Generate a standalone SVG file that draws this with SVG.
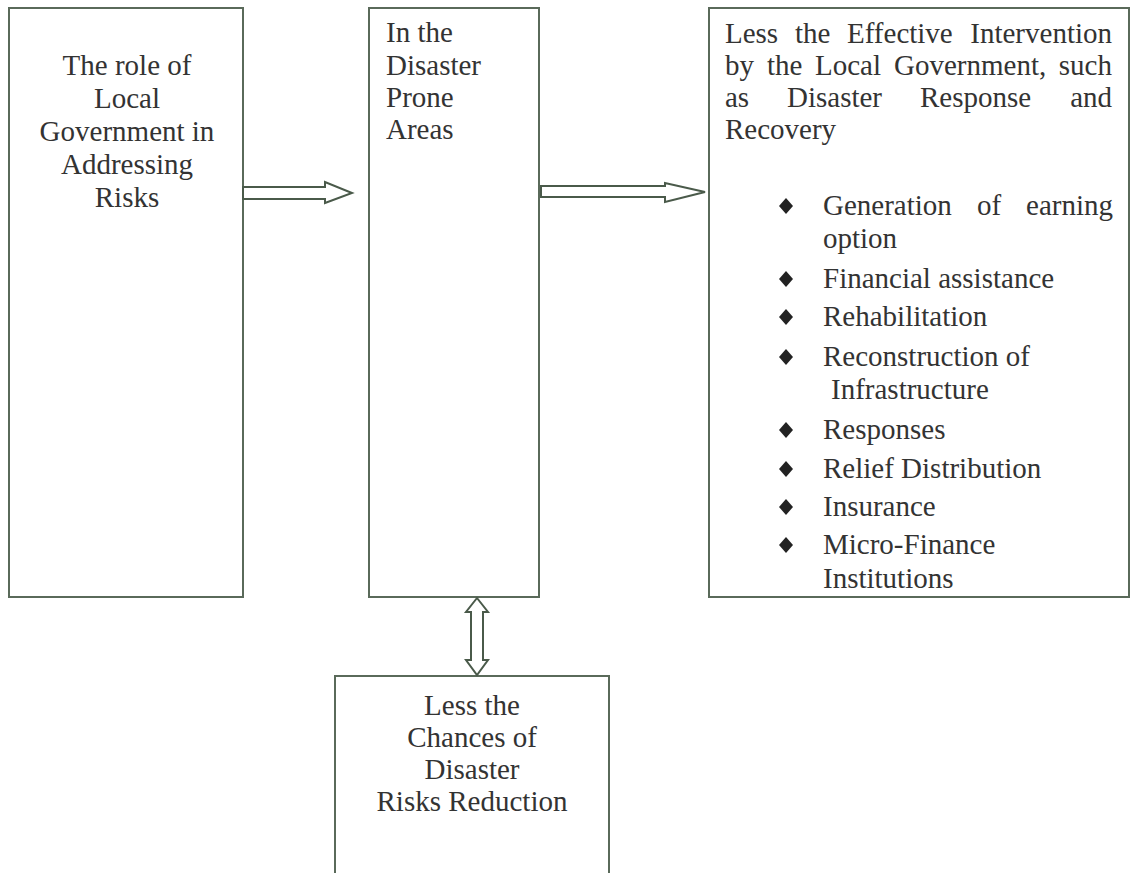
<svg xmlns="http://www.w3.org/2000/svg" width="1133" height="873" viewBox="0 0 1133 873">
<style>
.box{fill:#fff;stroke:#5a6a5a;stroke-width:2}
.arr{fill:#fff;stroke:#4a5a4a;stroke-width:2;stroke-linejoin:miter}
text{font-family:'Liberation Serif','DejaVu Serif',serif;font-size:29px;fill:#333}
.c{text-anchor:middle}
.e{text-anchor:end}
.d{fill:#222}
</style>
<rect width="1133" height="873" fill="#fff"/>
<g id="n1">
<rect class="box" x="9" y="8" width="234" height="589"/>
<text class="c" x="127" y="75">The role of</text>
<text class="c" x="127" y="108">Local</text>
<text class="c" x="127" y="141">Government in</text>
<text class="c" x="127" y="174">Addressing</text>
<text class="c" x="127" y="207">Risks</text>
</g>
<g id="n2">
<rect class="box" x="369" y="8" width="170" height="589"/>
<text x="386" y="42">In the</text>
<text x="386" y="75">Disaster</text>
<text x="386" y="107">Prone</text>
<text x="386" y="139">Areas</text>
</g>
<g id="n3">
<rect class="box" x="709" y="8" width="420" height="589"/>
<text x="725" y="43">Less</text>
<text x="795" y="43">the</text>
<text x="847" y="43">Effective</text>
<text class="e" x="1112" y="43">Intervention</text>
<text x="725" y="75">by</text>
<text x="767" y="75">the</text>
<text x="815" y="75">Local</text>
<text x="894" y="75">Government,</text>
<text class="e" x="1112" y="75">such</text>
<text x="725" y="107">as</text>
<text x="787" y="107">Disaster</text>
<text x="920" y="107">Response</text>
<text class="e" x="1112" y="107">and</text>
<text x="725" y="139">Recovery</text>
<path class="d" d="M786 198l7 8l-7 8l-7-8z"/>
<text x="823" y="215">Generation</text>
<text x="977" y="215">of</text>
<text class="e" x="1113" y="215">earning</text>
<text x="823" y="248">option</text>
<path class="d" d="M786 271l7 8l-7 8l-7-8z"/>
<text x="823" y="288">Financial assistance</text>
<path class="d" d="M786 309l7 8l-7 8l-7-8z"/>
<text x="823" y="326">Rehabilitation</text>
<path class="d" d="M786 349l7 8l-7 8l-7-8z"/>
<text x="823" y="366">Reconstruction of</text>
<text x="831" y="399">Infrastructure</text>
<path class="d" d="M786 422l7 8l-7 8l-7-8z"/>
<text x="823" y="439">Responses</text>
<path class="d" d="M786 461l7 8l-7 8l-7-8z"/>
<text x="823" y="478">Relief Distribution</text>
<path class="d" d="M786 499l7 8l-7 8l-7-8z"/>
<text x="823" y="516">Insurance</text>
<path class="d" d="M786 537l7 8l-7 8l-7-8z"/>
<text x="823" y="554">Micro-Finance</text>
<text x="823" y="588">Institutions</text>
</g>
<g id="n4">
<rect class="box" x="335" y="676" width="274" height="210"/>
<text class="c" x="472" y="715">Less the</text>
<text class="c" x="472" y="747">Chances of</text>
<text class="c" x="472" y="779">Disaster</text>
<text class="c" x="472" y="811">Risks Reduction</text>
</g>
<g id="connectors">
<path class="arr" d="M243 187H325V182L352 193L325 203V199H243Z"/>
<path class="arr" d="M541 186H665V183L705 192L665 202V197H541Z"/>
<path class="arr" d="M477 598L488 612H483V660H488L477 675L466 660H471V612H466Z"/>
</g>
</svg>
